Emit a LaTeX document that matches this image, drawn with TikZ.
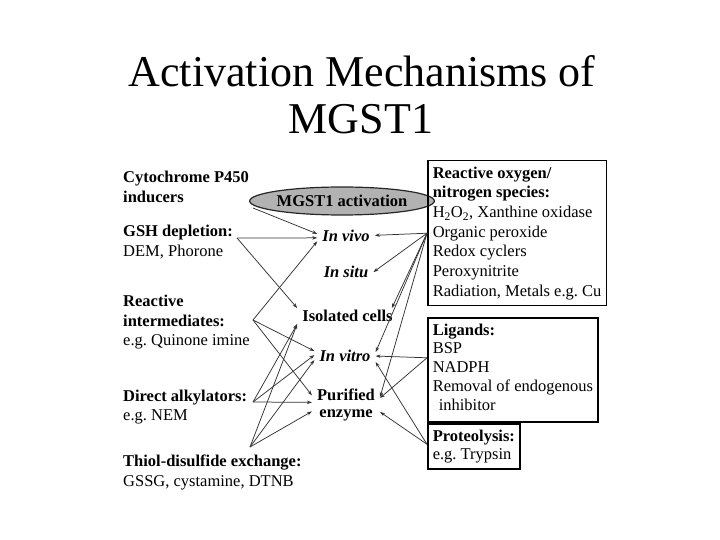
\documentclass[tikz,border=0pt]{standalone}
\usepackage{fontspec}
\setmainfont{Liberation Serif}
\usetikzlibrary{arrows.meta,shapes.geometric}
\frenchspacing
\begin{document}
\begin{tikzpicture}[x=1pt,y=-1pt,
  lbl/.style={anchor=base west, inner sep=0pt, font=\fontsize{16.5}{20}\selectfont\bfseries},
  lblr/.style={anchor=base west, inner sep=0pt, font=\fontsize{16.5}{20}\selectfont},
  midn/.style={inner xsep=5pt, inner ysep=2pt, anchor=base, font=\fontsize{16.5}{17}\selectfont\bfseries},
  midi/.style={midn, font=\fontsize{16.5}{17}\selectfont\bfseries\itshape},
  box/.style={draw=black, line width=1.5pt, align=left, inner xsep=5pt, inner ysep=6pt, anchor=north west},
  conn/.style={draw=black!80, line width=0.75pt, -{Stealth[length=5pt,width=3.5pt]}},
  ttl/.style={anchor=base, inner sep=0pt, font=\fontsize{44}{47}\selectfont}
]
\useasboundingbox (0,0) rectangle (720,540);

% title
\node[ttl] (t1) at (362,87) {Activation Mechanisms of};
\node[ttl] (t2) at (361,134) {MGST1};

% left labels
\node[lbl] (cyta) at (123,183) {Cytochrome P450};
\node[lbl] (cytb) at (123,203) {inducers};
\node[lbl] (gsha) at (123,236.5) {GSH depletion:};
\node[lblr] (gshb) at (123,256.5) {DEM, Phorone};
\node[lbl] (ria) at (123,306.5) {Reactive};
\node[lbl] (rib) at (123,326.5) {intermediates:};
\node[lblr] (ric) at (123,345.5) {e.g. Quinone imine};
\node[lbl] (daa) at (123,401.5) {Direct alkylators:};
\node[lblr] (dab) at (123,420.5) {e.g. NEM};
\node[lbl] (tha) at (123,466.5) {Thiol-disulfide exchange:};
\node[lblr] (thb) at (123,486.5) {GSSG, cystamine, DTNB};

\coordinate (cytp) at (253,208);
\coordinate (gshp) at (237,238);
\coordinate (rip) at (253,320);
\coordinate (dap) at (253,402);
\coordinate (thp) at (250,447);

% centre
\node[ellipse, draw=black!85, line width=1.2pt, fill=black!30, minimum width=153pt,
      minimum height=28pt, inner sep=0pt, font=\fontsize{16.5}{20}\selectfont\bfseries]
      (act) at (342,201) {MGST1 activation};
\node[midi] (vivo) at (346,241) {In vivo};
\node[midi] (situ) at (346,277.7) {In situ};
\node[midn] (iso) at (347.5,321.7) {Isolated cells};
\node[midi] (vitro) at (345,361.7) {In vitro};
\node[midn, anchor=north, align=center] (pur) at (346,386.7) {Purified\\enzyme};

% right boxes
\node[box, font=\fontsize{16.5}{19.65}\selectfont] (ros) at (427,160)
  {\textbf{Reactive oxygen/}\\\textbf{nitrogen species:}\\H\textsubscript{2}O\textsubscript{2}, Xanthine oxidase\\Organic peroxide\\Redox cyclers\\Peroxynitrite\\Radiation, Metals e.g. Cu};
\node[box, font=\fontsize{16.5}{18.75}\selectfont] (lig) at (427,317)
  {\textbf{Ligands:}\\BSP\\NADPH\\Removal of endogenous\\\hspace*{6pt}inhibitor\strut};
\node[box, font=\fontsize{16.5}{18}\selectfont] (prot) at (427,423)
  {\textbf{Proteolysis:}\\e.g. Trypsin};

\coordinate (rosp) at (ros.west);
\coordinate (ligp) at ([yshift=12pt]lig.west);
\coordinate (protp) at ([yshift=2pt]prot.west);

% left connectors
\draw[conn] (cytp) -- ([yshift=1.5pt]vivo.west);
\draw[conn] (gshp) -- ([yshift=-2.5pt]vivo.west);
\draw[conn] (rip) -- ([yshift=-6pt]vivo.west);
\draw[conn] (gshp) -- (iso.north west);
\draw[conn] (dap) -- (iso.south west);
\draw[conn] (thp) -- (iso.south west);
\draw[conn] (rip) -- ([yshift=5pt]vitro.west);
\draw[conn] (dap) -- ([yshift=1pt]vitro.west);
\draw[conn] (thp) -- ([yshift=-4pt]vitro.west);
\draw[conn] (rip) -- ([yshift=9.6pt]pur.west);
\draw[conn] (dap) -- ([yshift=2.6pt]pur.west);
\draw[conn] (thp) -- ([yshift=-6.4pt]pur.west);

% right connectors
\draw[conn] (rosp) -- (vivo.east);
\draw[conn] (rosp) -- (situ.east);
\draw[conn] (rosp) -- ([xshift=-6pt]iso.north east);
\draw[conn] (rosp) -- ([yshift=4pt]vitro.east);
\draw[conn] (rosp) -- ([yshift=8pt]pur.east);
\draw[conn] (ligp) -- (vitro.east);
\draw[conn] (ligp) -- ([yshift=7pt]pur.east);
\draw[conn] (protp) -- ([yshift=-6pt]vitro.east);
\draw[conn] (protp) -- ([yshift=-7pt]pur.east);
\end{tikzpicture}
\end{document}
